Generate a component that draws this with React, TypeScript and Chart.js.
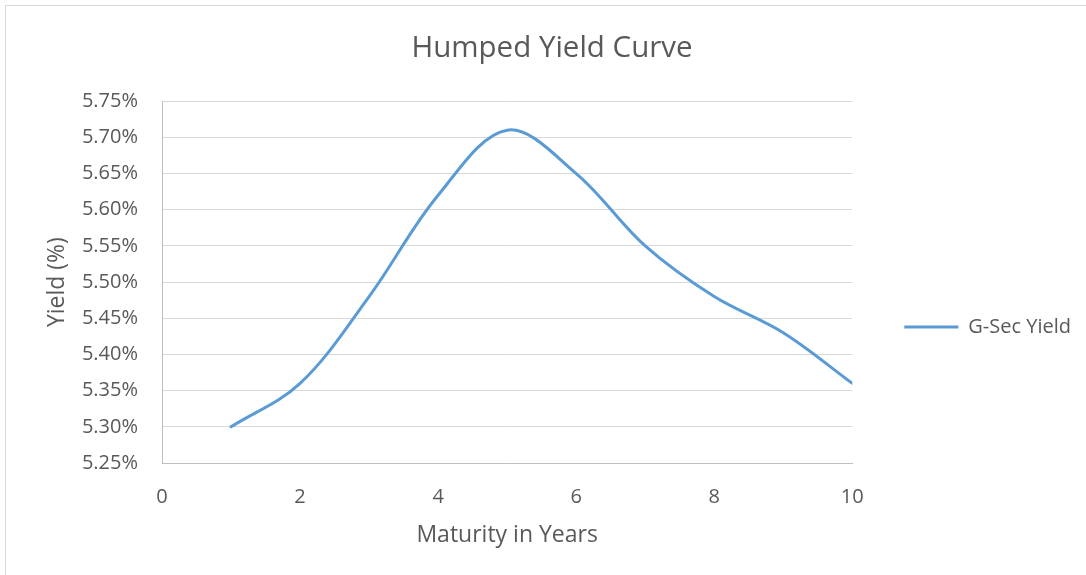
import React, { useEffect, useRef } from "react";
import { Chart, registerables } from "chart.js";

Chart.register(...registerables);

// ---- data ----
const maturities = [1, 2, 3, 4, 5, 6, 7, 8, 9, 10];
const yields = [5.3, 5.36, 5.48, 5.62, 5.71, 5.65, 5.55, 5.48, 5.43, 5.36];
const seriesLabel = "G-Sec Yield";
const chartTitle = "Humped Yield Curve";
const xAxisTitle = "Maturity in Years";
const yAxisTitle = "Yield (%)";
const yMin = 5.25;
const yMax = 5.75;
const yStep = 0.05;
const xMin = 0;
const xMax = 10;
const xStep = 2;

const FONT = "'Open Sans', 'Noto Sans', sans-serif";
const TEXT = "#595959";
const LINE = "#5B9BD5";

export default function App() {
  const ref = useRef<HTMLCanvasElement>(null);

  useEffect(() => {
    if (!ref.current) return;
    const chart = new Chart(ref.current, {
      type: "line",
      data: {
        datasets: [
          {
            label: seriesLabel,
            data: maturities.map((m, i) => ({ x: m, y: yields[i] })),
            borderColor: LINE,
            backgroundColor: LINE,
            borderWidth: 3,
            pointRadius: 0,
            pointHoverRadius: 0,
            tension: 0.35,
            borderCapStyle: "round",
            borderJoinStyle: "round",
            fill: false,
          },
        ],
      },
      options: {
        animation: false,
        responsive: false,
        devicePixelRatio: 1,
        events: [],
        layout: { padding: { left: 23, right: 5, top: 0, bottom: 0 } },
        plugins: {
          title: {
            display: true,
            text: chartTitle,
            color: TEXT,
            font: { family: FONT, size: 29.5, weight: "normal" },
            padding: { top: 30.6, bottom: 35.2 },
          },
          legend: {
            position: "right",
            align: "center",
            title: { display: true, text: "", padding: { top: 64.6, bottom: 0 } },
            labels: {
              usePointStyle: true,
              pointStyle: "line",
              pointStyleWidth: 54,
              boxHeight: 20,
              padding: 52,
              color: TEXT,
              font: { family: FONT, size: 20 },
            },
          },
          tooltip: { enabled: false },
        },
        scales: {
          x: {
            type: "linear",
            min: xMin,
            max: xMax,
            ticks: {
              stepSize: xStep,
              color: TEXT,
              font: { family: FONT, size: 20 },
              padding: 22,
            },
            grid: { display: false, drawTicks: false },
            border: { display: true, color: "#BFBFBF", width: 1 },
            title: {
              display: true,
              text: xAxisTitle,
              color: TEXT,
              font: { family: FONT, size: 23 },
              padding: { top: 0, bottom: 25.5 },
            },
            afterFit: (s: any) => {
              s.height = 112;
            },
          },
          y: {
            type: "linear",
            min: yMin,
            max: yMax,
            ticks: {
              stepSize: yStep,
              color: TEXT,
              font: { family: FONT, size: 20 },
              padding: 24,
              callback: (v: any) => Number(v).toFixed(2) + "%",
            },
            grid: { color: "#D9D9D9", lineWidth: 1, drawTicks: false },
            border: { display: true, color: "#BFBFBF", width: 1 },
            title: {
              display: true,
              text: yAxisTitle,
              color: TEXT,
              font: { family: FONT, size: 23 },
              padding: { top: 20.2, bottom: 0 },
            },
            afterFit: (s: any) => {
              s.width = 139;
            },
          },
        },
      },
    });
    return () => chart.destroy();
  }, []);

  return (
    <div
      style={{
        position: "fixed",
        left: 0,
        top: 0,
        width: 1086,
        height: 575,
        overflow: "hidden",
        background: "#ffffff",
      }}
    >
      <div
        style={{
          position: "absolute",
          left: 5,
          top: 5,
          width: 1200,
          height: 700,
          border: "1px solid #D9D9D9",
        }}
      />
      <canvas
        ref={ref}
        width={1086}
        height={575}
        style={{ position: "absolute", left: 0, top: 0, width: 1086, height: 575 }}
      />
    </div>
  );
}
